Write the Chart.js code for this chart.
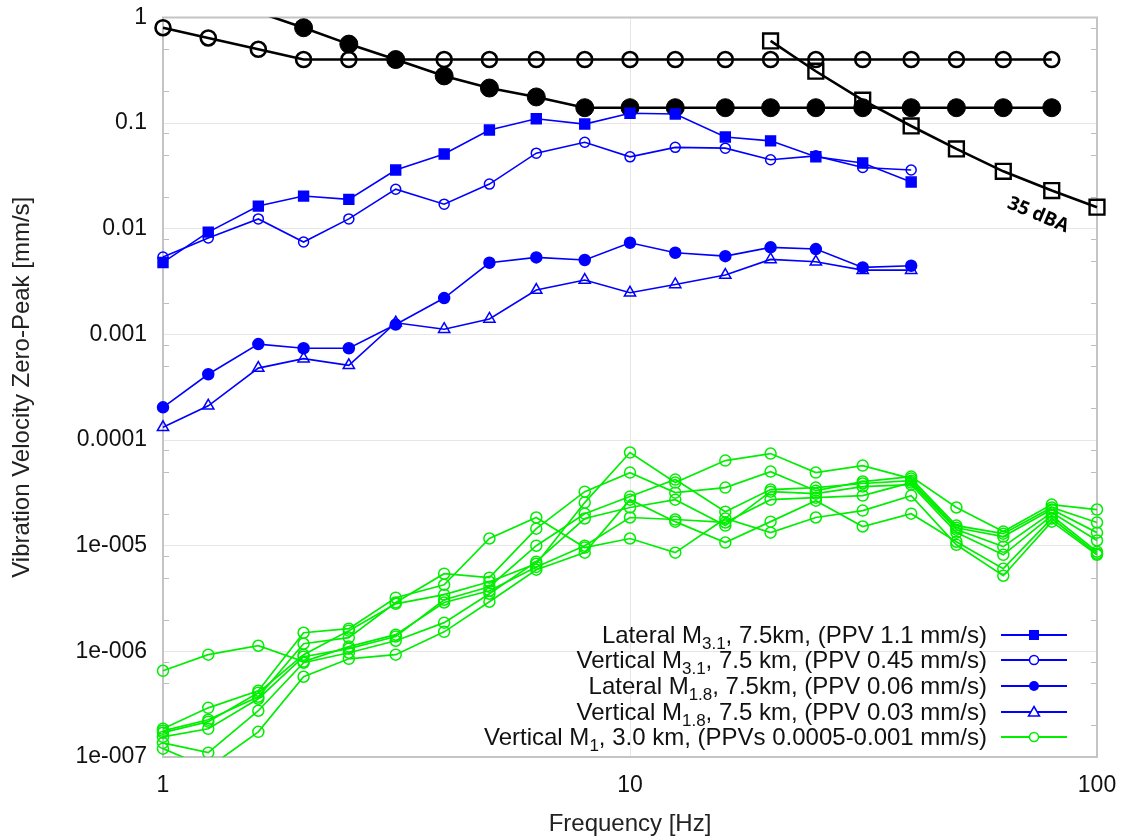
<!DOCTYPE html>
<html>
<head>
<meta charset="utf-8">
<script src="https://cdn.jsdelivr.net/npm/chart.js@4.4.1/dist/chart.umd.min.js"></script>
<style>
html,body{margin:0;padding:0;background:#fff;}
#wrap{position:relative;width:1123px;height:837px;overflow:hidden;}
#legend{position:absolute;right:56px;top:622px;font-family:"Liberation Sans",Arial,sans-serif;font-size:24px;color:#111;}
.row{display:flex;align-items:center;justify-content:flex-end;height:25.6px;}
.row .t{white-space:nowrap;line-height:1;}
.row sub{font-size:17px;vertical-align:-6px;line-height:0;}
.row svg{margin-left:14px;display:block;}
</style>
</head>
<body>
<div id="wrap">
<canvas id="c" width="1123" height="837"></canvas>
<div id="legend"></div>
</div>
<script>
// ---------------- data ----------------
const freq = [1, 1.25, 1.6, 2, 2.5, 3.15, 4, 5, 6.3, 8, 10, 12.5, 16, 20, 25, 31.5, 40, 50, 63, 80, 100];

// black reference curves
const refOpen   = [0.8, 0.64, 0.5, 0.4, 0.4, 0.4, 0.4, 0.4, 0.4, 0.4, 0.4, 0.4, 0.4, 0.4, 0.4, 0.4, 0.4, 0.4, 0.4, 0.4, null];
const refFilled = [null, null, 1.12, 0.8, 0.56, 0.4, 0.28, 0.215, 0.177, 0.14, 0.14, 0.14, 0.14, 0.14, 0.14, 0.14, 0.14, 0.14, 0.14, 0.14, null];
const dBA35     = [null, null, null, null, null, null, null, null, null, null, null, null, null, 0.6, 0.31, 0.165, 0.094, 0.057, 0.035, 0.023, 0.016];

// blue series
const latM31 = [0.0048, 0.0093, 0.0164, 0.0204, 0.019, 0.036, 0.051, 0.086, 0.11, 0.098, 0.124, 0.122, 0.074, 0.068, 0.048, 0.042, 0.0277, null, null, null, null];
const verM31 = [0.0054, 0.0082, 0.0124, 0.0075, 0.0124, 0.0237, 0.0171, 0.0265, 0.052, 0.066, 0.048, 0.059, 0.058, 0.045, 0.049, 0.038, 0.036, null, null, null, null];
const latM18 = [0.000204, 0.00042, 0.00081, 0.00074, 0.00074, 0.00124, 0.00221, 0.00477, 0.00536, 0.00506, 0.00738, 0.00593, 0.00551, 0.00667, 0.00643, 0.00431, 0.00447, null, null, null, null];
const verM18 = [0.000132, 0.000211, 0.00048, 0.00059, 0.00051, 0.00129, 0.00112, 0.0014, 0.00263, 0.00327, 0.00248, 0.00297, 0.00365, 0.00513, 0.00487, 0.00406, 0.00406, null, null, null, null];

// green series (Vertical M1, 3.0 km, several events)
const g1 = [6.55e-7, 9.3e-7, 1.13e-6, 8.0e-7, 1.11e-6, 1.44e-6, 2.9e-6, 3.75e-6, 6.3e-6, 1.0e-5, 1.85e-5, 1.77e-5, 1.66e-5, 2.73e-5, 2.85e-5, 2.98e-5, 3.96e-5, 1.42e-5, 9.8e-6, 2.06e-5, 1.12e-5];
const g2 = [1.85e-7, 2.92e-7, 4.24e-7, 1.5e-6, 1.64e-6, 3.22e-6, 4.27e-6, 1.17e-5, 1.85e-5, 9.6e-6, 1.17e-5, 8.6e-6, 1.81e-5, 1.33e-5, 1.85e-5, 2.15e-5, 2.98e-5, 1.02e-5, 5.2e-6, 1.69e-5, 8.2e-6];
const g3 = [1.77e-7, 2.25e-7, 3.72e-7, 1.18e-6, 1.35e-6, 2.9e-6, 5.43e-6, 4.98e-6, 1.45e-5, 3.25e-5, 4.92e-5, 3.18e-5, 3.55e-5, 5.03e-5, 3.32e-5, 4.05e-5, 4.51e-5, 2.3e-5, 1.36e-5, 2.45e-5, 2.2e-5];
const g4 = [1.7e-7, 2.16e-7, 4.06e-7, 9.3e-7, 1.57e-6, 2.82e-6, 3.44e-6, 4.56e-6, 6.75e-6, 2.56e-5, 7.62e-5, 3.96e-5, 6.4e-5, 7.45e-5, 4.92e-5, 5.73e-5, 4.32e-5, 1.55e-5, 1.3e-5, 2.3e-5, 1.66e-5];
const g5 = [1.55e-7, 1.85e-7, 3.56e-7, 8.9e-7, 1.06e-6, 1.38e-6, 3.08e-6, 4.09e-6, 1.0e-5, 2.01e-5, 2.92e-5, 4.23e-5, 2.1e-5, 3.4e-5, 3.55e-5, 3.88e-5, 4.13e-5, 1.48e-5, 1.22e-5, 2.2e-5, 1.33e-5];
const g6 = [1.36e-7, 1.1e-7, 2.74e-7, 7.8e-7, 9.7e-7, 1.26e-6, 1.87e-6, 3.51e-6, 7.06e-6, 1.81e-5, 2.3e-5, 2.73e-5, 1.55e-5, 3.25e-5, 3.11e-5, 3.63e-5, 3.79e-5, 1.33e-5, 8.2e-6, 1.93e-5, 8.77e-6];
const g7 = [1.2e-7, 7.9e-8, 1.73e-7, 5.75e-7, 8.5e-7, 9.3e-7, 1.53e-6, 2.95e-6, 5.93e-6, 8.6e-6, 2.73e-5, 1.69e-5, 1.07e-5, 1.69e-5, 2.67e-5, 1.52e-5, 2.01e-5, 1.09e-5, 6.06e-6, 1.81e-5, 8.4e-6];

// ticks
const xTickValues = [1, 10, 100];
const xTickLabels = ["1", "10", "100"];
const yTickValues = [1, 0.1, 0.01, 0.001, 0.0001, 0.00001, 0.000001, 0.0000001];
const yTickLabels = ["1", "0.1", "0.01", "0.001", "0.0001", "1e-005", "1e-006", "1e-007"];
const minorMantissas = [2, 5, 8];

// legend text
const legendPre = ["Lateral M", "Vertical M", "Lateral M", "Vertical M", "Vertical M"];
const legendSub = ["3.1", "3.1", "1.8", "1.8", "1"];
const legendPost = [", 7.5km, (PPV 1.1 mm/s)", ", 7.5 km, (PPV 0.45 mm/s)", ", 7.5km, (PPV 0.06 mm/s)", ", 7.5 km, (PPV 0.03 mm/s)", ", 3.0 km, (PPVs 0.0005-0.001 mm/s)"];

const dbaText = "35 dBA";
const dbaAnchor = [74.8, 0.0135];

// ---------------- chart ----------------
const FONT = '"Liberation Sans", Arial, sans-serif';
const BLUE = '#0000ff';
const GREEN = '#00ee00';
const pts = arr => freq.map((f, i) => ({x: f, y: arr[i]})).filter(p => p.y !== null);

function blueSet(arr, style, radius, filled) {
  return {data: pts(arr), borderColor: BLUE, borderWidth: 1.6, pointStyle: style, pointRadius: radius,
    pointBorderWidth: 1.5, pointBorderColor: BLUE, pointBackgroundColor: filled ? BLUE : 'rgba(0,0,0,0)', clip: false};
}
function greenSet(arr) {
  return {data: pts(arr), borderColor: GREEN, borderWidth: 1.7, pointStyle: 'circle', pointRadius: 5.5,
    pointBorderWidth: 1.5, pointBorderColor: GREEN, pointBackgroundColor: 'rgba(0,0,0,0)',
    clip: {left: 20, right: 20, top: 20, bottom: 0}};
}
const datasets = [
  blueSet(latM31, 'rect', 7, true),
  blueSet(verM31, 'circle', 5, false),
  blueSet(latM18, 'circle', 5.5, true),
  blueSet(verM18, 'triangle', 6.5, false),
  greenSet(g1), greenSet(g2), greenSet(g3), greenSet(g4), greenSet(g5), greenSet(g6), greenSet(g7),
  {data: pts(dBA35), borderColor: '#000', borderWidth: 2.6, pointStyle: 'rect', pointRadius: 10.5,
    pointBorderWidth: 2.4, pointBorderColor: '#000', pointBackgroundColor: 'rgba(0,0,0,0)', clip: false},
  {data: pts(refFilled), borderColor: '#000', borderWidth: 2.6, pointStyle: 'circle',
    pointRadius: c => (c.raw && c.raw.y > 1) ? 0 : 9,
    pointBorderWidth: 1, pointBorderColor: '#000', pointBackgroundColor: '#000',
    clip: {left: 20, right: 20, top: 0, bottom: 20}},
  {data: pts(refOpen), borderColor: '#000', borderWidth: 2.6, pointStyle: 'circle', pointRadius: 7.5,
    pointBorderWidth: 2.6, pointBorderColor: '#000', pointBackgroundColor: 'rgba(0,0,0,0)', clip: false}
];
datasets.forEach(d => { d.tension = 0; d.fill = false; d.spanGaps = false; });

const frame = {
  id: 'frame',
  beforeDatasetsDraw(chart) {
    const {ctx, chartArea: a, scales: {y}} = chart;
    ctx.save();
    ctx.strokeStyle = '#bdbdbd';
    ctx.lineWidth = 1;
    for (let d = 1; d < yTickValues.length; d++) {
      for (const m of minorMantissas) {
        const py = Math.round(y.getPixelForValue(m * yTickValues[d])) + 0.5;
        ctx.beginPath();
        ctx.moveTo(a.left, py); ctx.lineTo(a.left + 6, py);
        ctx.moveTo(a.right - 6, py); ctx.lineTo(a.right, py);
        ctx.stroke();
      }
    }
    ctx.strokeStyle = '#c4c4c4';
    ctx.lineWidth = 2;
    ctx.strokeRect(a.left, a.top, a.right - a.left, a.bottom - a.top);
    ctx.restore();
  },
  afterDatasetsDraw(chart) {
    const {ctx, scales: {x, y}} = chart;
    ctx.save();
    ctx.translate(x.getPixelForValue(dbaAnchor[0]), y.getPixelForValue(dbaAnchor[1]));
    ctx.rotate(23 * Math.PI / 180);
    ctx.font = 'bold 19px "Open Sans", "Liberation Sans", sans-serif';
    ctx.fillStyle = '#000';
    ctx.textAlign = 'center';
    ctx.textBaseline = 'middle';
    ctx.fillText(dbaText, 0, 0);
    ctx.restore();
  }
};

new Chart(document.getElementById('c'), {
  type: 'line',
  data: {datasets},
  options: {
    responsive: false,
    animation: false,
    events: [],
    devicePixelRatio: 1,
    layout: {padding: {left: 0, right: 26, top: 17.5, bottom: 0}},
    plugins: {legend: {display: false}, tooltip: {enabled: false}},
    scales: {
      x: {
        type: 'logarithmic', min: 1, max: 100,
        afterBuildTicks: s => { s.ticks = xTickValues.map(v => ({value: v})); },
        afterFit: s => { s.height = 80; s.paddingLeft = 0; s.paddingRight = 0; },
        ticks: {callback: (v, i) => xTickLabels[i], font: {family: FONT, size: 23}, color: '#111', padding: 15, maxRotation: 0, autoSkip: false},
        grid: {color: '#e6e6e6', lineWidth: 1, drawTicks: false},
        border: {display: false},
        title: {display: true, text: 'Frequency [Hz]', font: {family: FONT, size: 24}, color: '#222', padding: {top: 0, bottom: -2}}
      },
      y: {
        type: 'logarithmic', min: 1e-7, max: 1,
        afterBuildTicks: s => { s.ticks = yTickValues.map(v => ({value: v})); },
        afterFit: s => { s.width = 163; s.paddingTop = 0; s.paddingBottom = 0; },
        ticks: {callback: (v, i) => yTickLabels[i], font: {family: FONT, size: 23}, color: '#111', padding: 16, autoSkip: false},
        grid: {color: '#e6e6e6', lineWidth: 1, drawTicks: false},
        border: {display: false},
        title: {display: true, text: 'Vibration Velocity Zero-Peak [mm/s]', font: {family: FONT, size: 24}, color: '#222', padding: {top: 8, bottom: 0}}
      }
    }
  },
  plugins: [frame]
});

// ---------------- legend (HTML, for subscripts) ----------------
function sample(i) {
  const col = i === 4 ? GREEN : BLUE;
  let mk = '';
  if (i === 0) mk = `<rect x="28" y="3" width="10" height="10" fill="${col}"/>`;
  if (i === 1) mk = `<circle cx="33" cy="8" r="4.5" fill="#fff" stroke="${col}" stroke-width="1.5"/>`;
  if (i === 2) mk = `<circle cx="33" cy="8" r="5" fill="${col}"/>`;
  if (i === 3) mk = `<polygon points="33,2.5 38.5,12 27.5,12" fill="#fff" stroke="${col}" stroke-width="1.5"/>`;
  if (i === 4) mk = `<circle cx="33" cy="8" r="4.5" fill="#fff" stroke="${col}" stroke-width="1.5"/>`;
  return `<svg width="66" height="16" viewBox="0 0 66 16"><line x1="0" y1="8" x2="66" y2="8" stroke="${col}" stroke-width="2"/>${mk}</svg>`;
}
const lg = document.getElementById('legend');
legendPre.forEach((p, i) => {
  const row = document.createElement('div');
  row.className = 'row';
  row.innerHTML = `<span class="t">${p}<sub>${legendSub[i]}</sub>${legendPost[i]}</span>${sample(i)}`;
  lg.appendChild(row);
});
</script>
</body>
</html>
